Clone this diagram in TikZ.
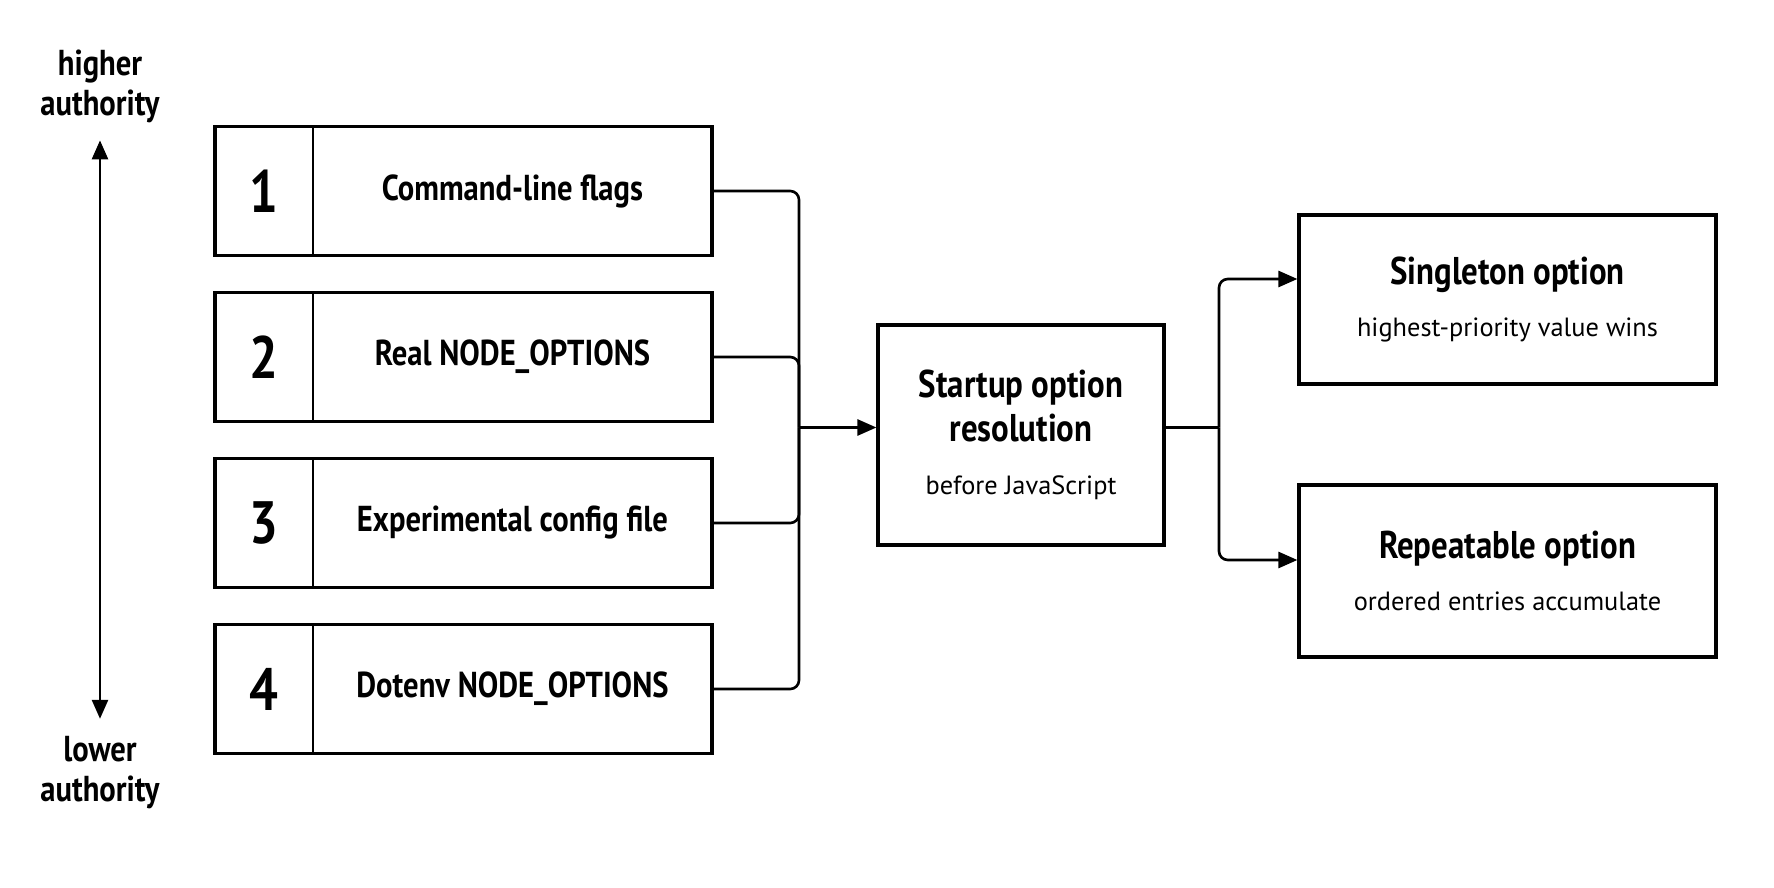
\documentclass[tikz,border=0pt]{standalone}
\usepackage{fontspec}
\setmainfont{PT Sans}
\newfontfamily\narrowfont[FakeStretch=0.85]{PT Sans}
\usetikzlibrary{arrows.meta, positioning}
\newcommand{\headfont}{\narrowfont\bfseries\fontsize{22}{25}\selectfont}
\newcommand{\subfont}{\normalfont\fontsize{15}{18}\selectfont}
\tikzset{
  every picture/.style={line width=1.5pt},
  cell/.style={minimum height=2.58cm, inner sep=0pt, outer sep=0pt},
  numcell/.style={cell, minimum width=1.96cm, font=\narrowfont\bfseries\fontsize{34}{34}\selectfont},
  srccell/.style={cell, minimum width=7.98cm, font=\narrowfont\bfseries\fontsize{20.5}{24}\selectfont},
  stage/.style={draw, line width=1.8pt, align=center, inner sep=0pt, font=\headfont},
  side/.style={align=center, font=\narrowfont\bfseries\fontsize{20.5}{23}\selectfont},
  link/.style={rounded corners=5pt},
  arrow/.style={-{Triangle[length=0.38cm, width=0.32cm]}},
}
\begin{document}
\begin{tikzpicture}
  \useasboundingbox (0,0) rectangle (35.48,17.74);
  % authority scale
  \node[side] (hi) at (2.0,16.01) {higher\\authority};
  \node[side] (lo) at (2.0,2.29) {lower\\authority};
  \draw[{Triangle[length=0.38cm, width=0.32cm]}-{Triangle[length=0.38cm, width=0.32cm]},
    shorten <=0.2cm, shorten >=0.2cm] (hi) -- (lo);
  % option sources
  \foreach \t [count=\i] in {Command-line flags, Real NODE\_OPTIONS, Experimental config file, Dotenv NODE\_OPTIONS}{
    \node[numcell] (num\i) at (5.28,13.92-3.32*\i+3.32) {\i};
    \node[srccell, right=0pt of num\i] (src\i) {\t};
    \draw[line width=1.8pt] (num\i.north west) rectangle (src\i.south east);
    \draw[line width=1.1pt] (num\i.north east) -- (num\i.south east);
  }
  % resolution and outcomes
  \node[stage, minimum width=5.72cm, minimum height=4.4cm] (ctr) at (20.42,9.04)
    {Startup option\\resolution\\[5pt]{\subfont before JavaScript}};
  \node[stage, minimum width=8.34cm, minimum height=3.38cm] (single) at (30.15,11.75)
    {Singleton option\\[5pt]{\subfont highest-priority value wins}};
  \node[stage, minimum width=8.34cm, minimum height=3.44cm] (rep) at (30.15,6.32)
    {Repeatable option\\[5pt]{\subfont ordered entries accumulate}};
  \coordinate (merge) at (15.98,9.19);
  \coordinate (split) at (24.38,9.19);
  \foreach \i in {1,...,4} \draw[link] (src\i.east) -| (merge);
  \draw[arrow] (merge) -- (merge -| ctr.west);
  \draw (ctr.east |- split) -- (split);
  \draw[link, arrow] (split) |- ([yshift=0.41cm]single.west);
  \draw[link, arrow] (split) |- ([yshift=0.22cm]rep.west);
\end{tikzpicture}
\end{document}
